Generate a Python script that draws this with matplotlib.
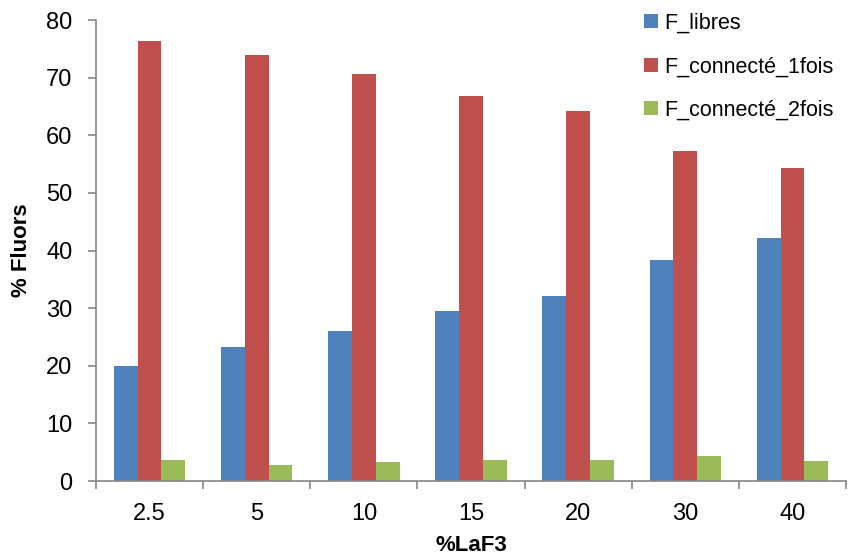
import numpy as np
import matplotlib.pyplot as plt

plt.rcParams['font.family'] = ['Liberation Sans', 'DejaVu Sans']

# data
categories = ['2.5', '5', '10', '15', '20', '30', '40']
f_libres = [20.0, 23.2, 26.1, 29.5, 32.1, 38.4, 42.2]
f_connecte_1fois = [76.4, 73.9, 70.6, 66.8, 64.2, 57.2, 54.3]
f_connecte_2fois = [3.6, 2.8, 3.3, 3.7, 3.6, 4.3, 3.4]

fig = plt.figure(figsize=(8.55, 5.59), dpi=100)
ax = fig.add_axes([0.1123, 0.1395, 0.8772, 0.8247])

x = np.arange(len(categories))
w = 1 / 4.5  # excel style, gap width 150%
ax.bar(x - w, f_libres, w, color='#4F81BD', label='F_libres')
ax.bar(x, f_connecte_1fois, w, color='#C0504D', label='F_connecté_1fois')
ax.bar(x + w, f_connecte_2fois, w, color='#9BBB59', label='F_connecté_2fois')

ax.set_xlim(-0.5, len(categories) - 0.5)
ax.set_ylim(0, 80)
ax.set_yticks(range(0, 81, 10))

# labels at centres, tick marks between categories
ax.set_xticks(x)
ax.set_xticklabels(categories)
ax.set_xticks(np.arange(-0.5, len(categories)), minor=True)
ax.tick_params(axis='x', which='major', length=0, pad=16, labelsize=17)
ax.tick_params(axis='x', which='minor', length=6, width=1.2, color='#868686')
ax.tick_params(axis='y', length=6, width=1.2, color='#868686', labelsize=17, pad=11)

for s in ['top', 'right']:
    ax.spines[s].set_visible(False)
for s in ['left', 'bottom']:
    ax.spines[s].set_color('#868686')
    ax.spines[s].set_linewidth(1.2)

ax.set_xlabel('%LaF3', fontsize=16, fontweight='bold', labelpad=7)
ax.set_ylabel('% Fluors', fontsize=16, fontweight='bold', labelpad=10)

ax.legend(loc='upper left', bbox_to_anchor=(0.705, 1.058), frameon=False,
          fontsize=15.5, handlelength=0.65, handleheight=0.65, handletextpad=0.3,
          labelspacing=1.05)

fig.savefig('out.png', dpi=100)
